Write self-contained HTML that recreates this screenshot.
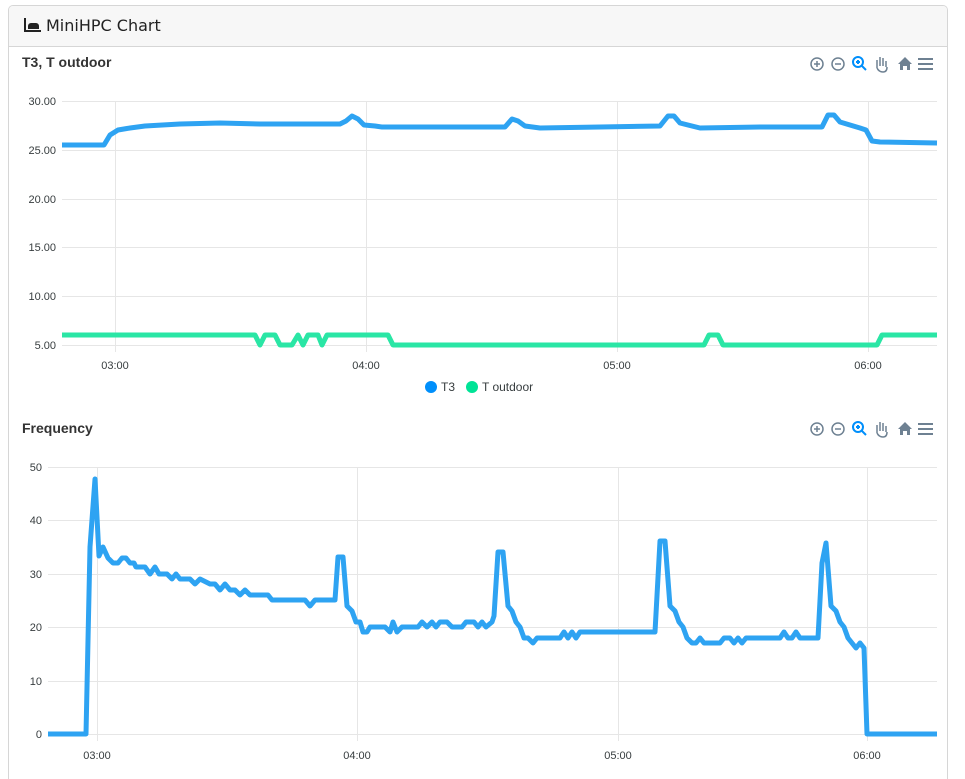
<!DOCTYPE html>
<html style="height:779px;overflow:hidden"><head><meta charset="utf-8"><style>
body{margin:0;background:#fff;font-family:"Liberation Sans",sans-serif;overflow:hidden;height:779px;width:965px;position:relative}
.card{position:absolute;left:8px;top:5px;width:938px;height:790px;border:1px solid #d6d6d6;border-radius:5px;overflow:hidden}
.hd{height:40px;background:#f7f7f7;border-bottom:1px solid #d6d6d6;font-family:"DejaVu Sans","Liberation Sans",sans-serif;font-size:16px;color:#222;line-height:40px;padding-left:15px}
svg{position:absolute;left:0;top:0}
</style></head><body>
<div class="card"><div class="hd"><span style="display:inline-block;width:15px;height:12px;border-left:2px solid #222;border-bottom:2px solid #222;vertical-align:-1px;margin-right:5px;position:relative"><span style="position:absolute;left:2px;bottom:1px;width:11px;height:6px;background:#222;border-radius:3px 3px 0 0"></span></span>MiniHPC Chart</div></div>
<svg width="965" height="779" font-family="Liberation Sans, sans-serif">
<g fill="none">
<text x="22" y="67" font-size="14" font-weight="bold" fill="#333">T3, T outdoor</text>
<text x="22" y="433" font-size="14" font-weight="bold" fill="#333">Frequency</text>
<g stroke="#e6e6e6" stroke-width="1">
<line x1="62" x2="937" y1="101.5" y2="101.5"/><line x1="62" x2="937" y1="150.5" y2="150.5"/><line x1="62" x2="937" y1="199.5" y2="199.5"/><line x1="62" x2="937" y1="247.5" y2="247.5"/><line x1="62" x2="937" y1="296.5" y2="296.5"/><line x1="62" x2="937" y1="345.5" y2="345.5"/>
<line x1="115.5" x2="115.5" y1="101" y2="352"/><line x1="366.5" x2="366.5" y1="101" y2="352"/><line x1="617.5" x2="617.5" y1="101" y2="352"/><line x1="868.5" x2="868.5" y1="101" y2="352"/>
<line x1="48" x2="937" y1="467.5" y2="467.5"/><line x1="48" x2="937" y1="520.5" y2="520.5"/><line x1="48" x2="937" y1="574.5" y2="574.5"/><line x1="48" x2="937" y1="627.5" y2="627.5"/><line x1="48" x2="937" y1="681.5" y2="681.5"/><line x1="48" x2="937" y1="734.5" y2="734.5"/>
<line x1="97.5" x2="97.5" y1="467" y2="741"/><line x1="357.5" x2="357.5" y1="467" y2="741"/><line x1="618.5" x2="618.5" y1="467" y2="741"/><line x1="867.5" x2="867.5" y1="467" y2="741"/>
</g>
<g fill="#373d3f" font-size="11" text-anchor="end">
<text x="56" y="105">30.00</text><text x="56" y="154">25.00</text><text x="56" y="203">20.00</text><text x="56" y="251">15.00</text><text x="56" y="300">10.00</text><text x="56" y="349">5.00</text>
<text x="42" y="471">50</text><text x="42" y="524">40</text><text x="42" y="578">30</text><text x="42" y="631">20</text><text x="42" y="685">10</text><text x="42" y="738">0</text>
</g>
<g fill="#373d3f" font-size="11" text-anchor="middle">
<text x="115" y="369">03:00</text><text x="366" y="369">04:00</text><text x="617" y="369">05:00</text><text x="868" y="369">06:00</text>
<text x="97" y="759">03:00</text><text x="357" y="759">04:00</text><text x="618" y="759">05:00</text><text x="867" y="759">06:00</text>
</g>
<circle cx="431" cy="387" r="6" fill="#008ffb"/><text x="441" y="391" font-size="12" fill="#373d3f">T3</text>
<circle cx="472" cy="387" r="6" fill="#00e396"/><text x="482" y="391" font-size="12" fill="#373d3f">T outdoor</text>
<g stroke-width="5" stroke-linejoin="round">
<polyline stroke="#2ea3f2" points="62,145 104,145 110,135 118,130 130,128 145,126 180,124 220,123 260,124 300,124 340,124 346,121 352,116 358,119 364,125 375,126 382,127 400,127 450,127 505,127 512,119 518,121 525,126 540,128 600,127 660,126 668,116 674,116 680,123 700,128 760,127 822,127 828,115 834,115 840,122 860,128 866,130 872,141 880,142 937,143"/>
<polyline stroke="#2ae6a5" points="62,335 255,335 260,345 265,335 275,335 280,345 292,345 298,335 303,345 308,335 318,335 322,345 327,335 388,335 393,345 704,345 709,335 718,335 723,345 877,345 882,335 937,335"/>
<polyline stroke="#2ea3f2" points="48,734 86,734 90,547 95,479 99,556 103,547 108,558 113,563 118,563 122,558 126,558 130,563 134,563 136,567 145,567 150,574 155,567 159,574 167,574 172,579 176,574 180,579 190,579 195,584 200,579 210,584 215,584 220,590 225,584 230,590 235,590 240,595 245,590 250,595 260,595 268,595 272,600 305,600 310,606 315,600 335,600 338,557 343,557 347,606 352,611 356,622 360,622 363,632 367,632 370,627 385,627 390,632 393,622 397,632 402,627 418,627 422,622 427,627 432,622 436,627 440,622 447,622 452,627 462,627 466,622 474,622 478,627 482,622 486,627 492,622 494,616 498,552 503,552 508,606 512,611 516,622 520,627 524,638 528,638 533,643 537,638 560,638 564,632 568,638 572,632 576,638 580,632 655,632 660,541 665,541 670,606 675,611 679,622 683,627 687,638 692,643 696,643 700,638 704,643 720,643 724,638 730,638 734,643 738,638 742,643 746,638 780,638 784,632 788,638 792,638 796,632 800,638 818,638 822,563 826,543 831,606 836,611 840,622 844,627 848,638 852,643 856,648 860,643 864,648 867,734 937,734"/>
</g>
<g id="tb" stroke-width="1.5">
<circle cx="817" cy="64" r="6" stroke="#6e8192"/><path d="M814 64h6M817 61v6" stroke="#6e8192"/>
<circle cx="838" cy="64" r="6" stroke="#6e8192"/><path d="M835 64h6" stroke="#6e8192"/>
<circle cx="858" cy="62" r="5" stroke="#008ffb" stroke-width="2"/><path d="M856 62h4M858 60v4M862 66l4 4" stroke="#008ffb" stroke-width="2"/>
<path d="M877 68v-8M880 66v-9M883 66v-8M886 67v-6M877 68q2 4 6 4q4 0 4 -5" stroke="#6e8192"/>
<path d="M898 64l7-7 7 7h-2v6h-3v-4h-4v4h-3v-6z" fill="#6e8192" stroke="none"/>
<path d="M918 59h15M918 64h15M918 69h15" stroke="#6e8192" stroke-width="2"/>
</g>
<use href="#tb" y="365"/>
</g>
</svg>
</body></html>
